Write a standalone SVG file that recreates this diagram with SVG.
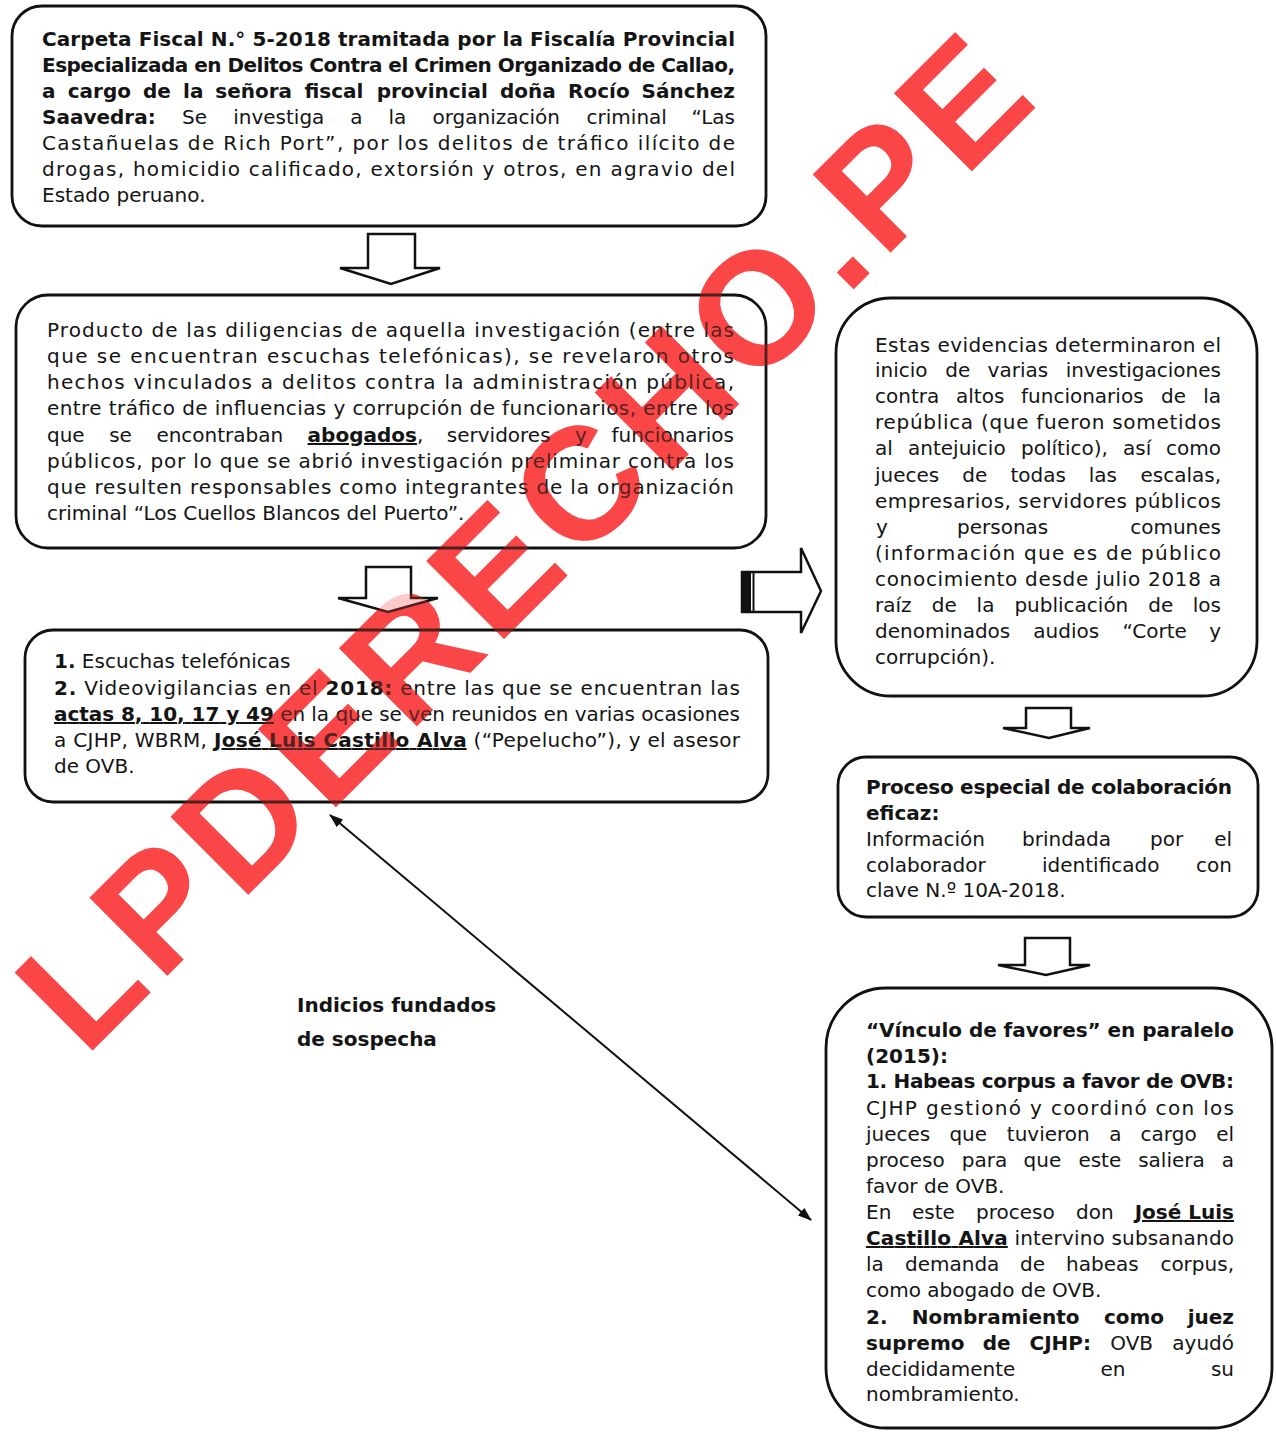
<svg xmlns="http://www.w3.org/2000/svg" width="1276" height="1432" viewBox="0 0 1276 1432">
<defs>
<style>
.t{font-family:"DejaVu Sans","Liberation Sans",sans-serif;font-size:20px;fill:#141414}
.b{font-weight:bold}
.u{text-decoration:underline}
.m{text-anchor:middle}
.e{text-anchor:end}
.box{fill:none;stroke:#111;stroke-width:2.8}
.blk{fill:#fff;stroke:#111;stroke-width:2.5;stroke-linejoin:miter}
.wm{font-family:"Liberation Sans",Arial,sans-serif;font-weight:bold;font-size:160px;fill:#fa4646}
</style>
<marker id="ah" viewBox="0 0 14 10" refX="13" refY="5" markerWidth="14" markerHeight="10" markerUnits="userSpaceOnUse" orient="auto-start-reverse">
<path d="M0,0 L14,5 L0,10 Z" fill="#111"/>
</marker>
</defs>
<rect width="1276" height="1432" fill="#fff"/>

<g id="watermark">
<text class="wm" x="0" y="0" transform="translate(85,1058) rotate(-45)" textLength="1350" lengthAdjust="spacing">LPDERECHO.PE</text>
</g>

<g id="connectors">
<polygon class="blk" points="368,234 415,234 415,268 440,268 391,284 340,268 368,268"/>
<polygon class="blk" points="366,567 411,567 411,598 438,598 388,612 338,598 366,598"/>
<polygon class="blk" points="1026,708 1071,708 1071,728 1090,728 1049,738 1003,728 1026,728"/>
<polygon class="blk" points="1025,938 1070,938 1070,965 1090,965 1046,975 998,965 1025,965"/>
<g id="right-arrow">
<polygon class="blk" points="742,572 801,572 801,548 821,591 801,633 801,612 742,612"/>
<rect x="742" y="572" width="9" height="40" fill="#111"/>
<line x1="753.5" y1="572" x2="753.5" y2="612" stroke="#111" stroke-width="2"/>
</g>
<line x1="330" y1="815" x2="811" y2="1220" stroke="#111" stroke-width="2" marker-start="url(#ah)" marker-end="url(#ah)"/>
</g>

<g id="node1">
<rect class="box" x="12" y="6" width="754" height="220" rx="30"/>
<text class="t b" x="42" y="46" textLength="693" lengthAdjust="spacing">Carpeta Fiscal N.° 5-2018 tramitada por la Fiscalía Provincial</text>
<text class="t b" x="42" y="72" textLength="693" lengthAdjust="spacing">Especializada en Delitos Contra el Crimen Organizado de Callao,</text>
<text class="t b" y="98"><tspan x="42">a</tspan><tspan x="67.7">cargo</tspan><tspan x="142.9">de</tspan><tspan x="183.1">la</tspan><tspan x="215.3">señora</tspan><tspan x="304.5">fiscal</tspan><tspan x="376.7">provincial</tspan><tspan x="499.9">doña</tspan><tspan x="568.1">Rocío</tspan><tspan class="e" x="735">Sánchez</tspan></text>
<text class="t" y="124"><tspan class="b" x="42">Saavedra:</tspan><tspan x="182.1">Se</tspan><tspan x="233.2">investiga</tspan><tspan x="350.3">a</tspan><tspan x="388.4">la</tspan><tspan x="432.5">organización</tspan><tspan x="586.6">criminal</tspan><tspan class="e" x="735">“Las</tspan></text>
<text class="t" x="42" y="150" textLength="693" lengthAdjust="spacing">Castañuelas de Rich Port”, por los delitos de tráfico ilícito de</text>
<text class="t" x="42" y="176" textLength="693" lengthAdjust="spacing">drogas, homicidio calificado, extorsión y otros, en agravio del</text>
<text class="t" x="42" y="202">Estado peruano.</text>
</g>

<g id="node2">
<rect class="box" x="16" y="295" width="750" height="253" rx="32"/>
<text class="t" x="47" y="337" textLength="687" lengthAdjust="spacing">Producto de las diligencias de aquella investigación (entre las</text>
<text class="t" x="47" y="363" textLength="687" lengthAdjust="spacing">que se encuentran escuchas telefónicas), se revelaron otros</text>
<text class="t" x="47" y="389" textLength="687" lengthAdjust="spacing">hechos vinculados a delitos contra la administración pública,</text>
<text class="t" x="47" y="415" textLength="687" lengthAdjust="spacing">entre tráfico de influencias y corrupción de funcionarios, entre los</text>
<text class="t" y="442"><tspan x="47">que</tspan><tspan x="109.2">se</tspan><tspan x="156.4">encontraban</tspan><tspan x="307.6" class="b u">abogados</tspan><tspan>,</tspan><tspan x="446.8">servidores</tspan><tspan x="575">y</tspan><tspan class="e" x="734">funcionarios</tspan></text>
<text class="t" x="47" y="468" textLength="687" lengthAdjust="spacing">públicos, por lo que se abrió investigación preliminar contra los</text>
<text class="t" x="47" y="494" textLength="687" lengthAdjust="spacing">que resulten responsables como integrantes de la organización</text>
<text class="t" x="47" y="520">criminal “Los Cuellos Blancos del Puerto”.</text>
</g>

<g id="node3">
<rect class="box" x="25" y="630" width="743" height="172" rx="28"/>
<text class="t" x="54" y="668"><tspan class="b">1.</tspan> Escuchas telefónicas</text>
<text class="t" x="54" y="695" textLength="686" lengthAdjust="spacing"><tspan class="b">2.</tspan> Videovigilancias en el <tspan class="b">2018:</tspan> entre las que se encuentran las</text>
<text class="t" x="54" y="721" textLength="686" lengthAdjust="spacing"><tspan class="b u">actas 8, 10, 17 y 49</tspan> en la que se ven reunidos en varias ocasiones</text>
<text class="t" x="54" y="747" textLength="686" lengthAdjust="spacing">a CJHP, WBRM, <tspan class="b u">José Luis Castillo Alva</tspan> (“Pepelucho”), y el asesor</text>
<text class="t" x="54" y="773">de OVB.</text>
</g>

<g id="node4">
<rect class="box" x="836" y="298" width="421" height="398" rx="55"/>
<text class="t" x="875" y="352" textLength="346" lengthAdjust="spacing">Estas evidencias determinaron el</text>
<text class="t" y="377"><tspan x="875">inicio</tspan><tspan x="945.3">de</tspan><tspan x="987.6">varias</tspan><tspan class="e" x="1221">investigaciones</tspan></text>
<text class="t" y="403"><tspan x="875">contra</tspan><tspan x="956">altos</tspan><tspan x="1021">funcionarios</tspan><tspan x="1161">de</tspan><tspan class="e" x="1221">la</tspan></text>
<text class="t" x="875" y="429" textLength="346" lengthAdjust="spacing">república (que fueron sometidos</text>
<text class="t" y="455"><tspan x="875">al</tspan><tspan x="908">antejuicio</tspan><tspan x="1021">político),</tspan><tspan x="1123">así</tspan><tspan class="e" x="1221">como</tspan></text>
<text class="t" y="482"><tspan x="875">jueces</tspan><tspan x="962.3">de</tspan><tspan x="1010.5">todas</tspan><tspan x="1088.8">las</tspan><tspan class="e" x="1221">escalas,</tspan></text>
<text class="t" x="875" y="508" textLength="346" lengthAdjust="spacing">empresarios, servidores públicos</text>
<text class="t" y="534"><tspan x="876">y</tspan><tspan x="957">personas</tspan><tspan class="e" x="1221">comunes</tspan></text>
<text class="t" x="875" y="560" textLength="346" lengthAdjust="spacing">(información que es de público</text>
<text class="t" x="875" y="586" textLength="346" lengthAdjust="spacing">conocimiento desde julio 2018 a</text>
<text class="t" y="612"><tspan x="875">raíz</tspan><tspan x="931.8">de</tspan><tspan x="976.6">la</tspan><tspan x="1014.4">publicación</tspan><tspan x="1148.2">de</tspan><tspan class="e" x="1221">los</tspan></text>
<text class="t" y="638"><tspan x="875">denominados</tspan><tspan x="1033.3">audios</tspan><tspan x="1122.6">“Corte</tspan><tspan class="e" x="1221">y</tspan></text>
<text class="t" x="875" y="664">corrupción).</text>
</g>

<g id="node5">
<rect class="box" x="838" y="757" width="420" height="160" rx="28"/>
<text class="t b" x="866" y="794" textLength="366" lengthAdjust="spacing">Proceso especial de colaboración</text>
<text class="t b" x="866" y="820">eficaz:</text>
<text class="t" y="846"><tspan x="866">Información</tspan><tspan x="1022">brindada</tspan><tspan x="1150">por</tspan><tspan class="e" x="1232">el</tspan></text>
<text class="t" y="872"><tspan x="866">colaborador</tspan><tspan x="1042">identificado</tspan><tspan class="e" x="1232">con</tspan></text>
<text class="t" x="866" y="897">clave N.º 10A-2018.</text>
</g>

<g id="node6">
<rect class="box" x="826" y="988" width="446" height="440" rx="60"/>
<text class="t b" x="866" y="1037" textLength="368" lengthAdjust="spacing">“Vínculo de favores” en paralelo</text>
<text class="t b" x="866" y="1063">(2015):</text>
<text class="t b" x="866" y="1088" textLength="368" lengthAdjust="spacing">1. Habeas corpus a favor de OVB:</text>
<text class="t" x="866" y="1115" textLength="368" lengthAdjust="spacing">CJHP gestionó y coordinó con los</text>
<text class="t" y="1141"><tspan x="866">jueces</tspan><tspan x="949.4">que</tspan><tspan x="1006.8">tuvieron</tspan><tspan x="1109.2">a</tspan><tspan x="1140.6">cargo</tspan><tspan class="e" x="1234">el</tspan></text>
<text class="t" y="1167"><tspan x="866">proceso</tspan><tspan x="961.8">para</tspan><tspan x="1023.6">que</tspan><tspan x="1078.4">este</tspan><tspan x="1138.2">saliera</tspan><tspan class="e" x="1234">a</tspan></text>
<text class="t" x="866" y="1193">favor de OVB.</text>
<text class="t" y="1219"><tspan x="866">En</tspan><tspan x="912">este</tspan><tspan x="976">proceso</tspan><tspan x="1076">don</tspan><tspan class="e b u" x="1234">José Luis</tspan></text>
<text class="t" x="866" y="1245" textLength="368" lengthAdjust="spacing"><tspan class="b u">Castillo Alva</tspan> intervino subsanando</text>
<text class="t" y="1271"><tspan x="866">la</tspan><tspan x="905">demanda</tspan><tspan x="1020">de</tspan><tspan x="1066">habeas</tspan><tspan class="e" x="1234">corpus,</tspan></text>
<text class="t" x="866" y="1297">como abogado de OVB.</text>
<text class="t b" y="1324"><tspan x="866">2.</tspan><tspan x="911.7">Nombramiento</tspan><tspan x="1103.9">como</tspan><tspan class="e" x="1234">juez</tspan></text>
<text class="t" y="1350"><tspan class="b" x="866">supremo</tspan><tspan class="b" x="982.8">de</tspan><tspan class="b" x="1029.5">CJHP:</tspan><tspan x="1110.3">OVB</tspan><tspan class="e" x="1234">ayudó</tspan></text>
<text class="t" y="1376"><tspan x="866">decididamente</tspan><tspan x="1100.5">en</tspan><tspan class="e" x="1234">su</tspan></text>
<text class="t" x="866" y="1401">nombramiento.</text>
</g>

<g id="label">
<text class="t b" x="297" y="1012">Indicios fundados</text>
<text class="t b" x="297" y="1046">de sospecha</text>
</g>

<g id="watermark-tint" opacity="0.28">
<text class="wm" x="0" y="0" transform="translate(85,1058) rotate(-45)" textLength="1350" lengthAdjust="spacing">LPDERECHO.PE</text>
</g>
</svg>
